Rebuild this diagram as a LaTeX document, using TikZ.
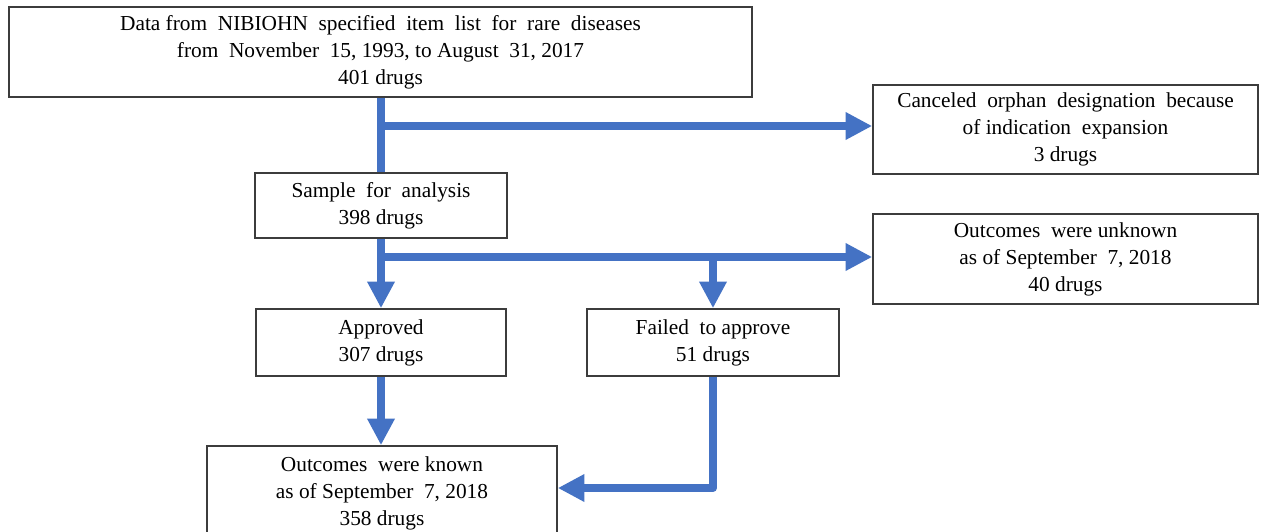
\documentclass[tikz,border=0pt]{standalone}
\usepackage{fontspec}
\setmainfont{Liberation Serif}
\usetikzlibrary{arrows.meta,calc}
\definecolor{flowblue}{RGB}{68,114,196}
\definecolor{boxgray}{RGB}{60,60,60}
\tikzset{
  box/.style={draw=boxgray, line width=1.2pt, fill=white, align=center, inner sep=0pt,
    font=\fontsize{16}{20.25}\selectfont},
  flowline/.style={draw=flowblue, line width=6pt, line join=round},
  flowarrow/.style={flowline, -{Triangle[length=20pt,width=19.5pt]}}
}
\newcommand\bx[6]{\node[box, minimum width={(#4-#2)*0.75pt}, minimum height={(#5-#3)*0.75pt}] (#1) at ({(#2+#4)/2},{(#3+#5)/2}) {#6};}
\begin{document}
\begin{tikzpicture}[x=0.75pt,y=-0.75pt]
\useasboundingbox (0,0) rectangle (1261,532);
\fill[white] (0,0) rectangle (1261,532);
\bx{top}{9}{7}{752}{97}{Data from\ \ NIBIOHN\ \ specified\ \ item\ \ list\ \ for\ \ rare\ \ diseases\\from\ \ November\ \ 15, 1993, to August\ \ 31, 2017\\401 drugs}
\bx{sample}{255}{173}{507}{238}{Sample\ \ for\ \ analysis\\398 drugs}
\bx{canc}{873}{85}{1258}{174}{Canceled\ \ orphan\ \ designation\ \ because\\of indication\ \ expansion\\3 drugs}
\bx{unk}{873}{214}{1258}{304}{Outcomes\ \ were unknown\\as of September\ \ 7, 2018\\40 drugs}
\bx{appr}{256}{309}{506}{376}{Approved\\307 drugs}
\bx{fail}{587}{309}{839}{376}{Failed\ \ to approve\\51 drugs}
\bx{known}{207}{446}{557}{540}{Outcomes\ \ were known\\as of September\ \ 7, 2018\\358 drugs}
\coordinate (j1) at (381,126);
\coordinate (j2) at (381,257);
\coordinate (j3) at (713,488);
\draw[flowline] (top.south -| sample.north) -- (sample.north);
\draw[flowarrow] (j1) -- (j1 -| canc.west);
\draw[flowarrow] (sample.south) -- (appr.north);
\draw[flowarrow] (j2) -- (j2 -| unk.west);
\draw[flowarrow] (j2 -| fail.north) -- (fail.north);
\draw[flowarrow] (appr.south) -- (appr.south |- known.north);
\draw[flowarrow] (fail.south) -- (j3) -- (j3 -| known.east);
\end{tikzpicture}
\end{document}
